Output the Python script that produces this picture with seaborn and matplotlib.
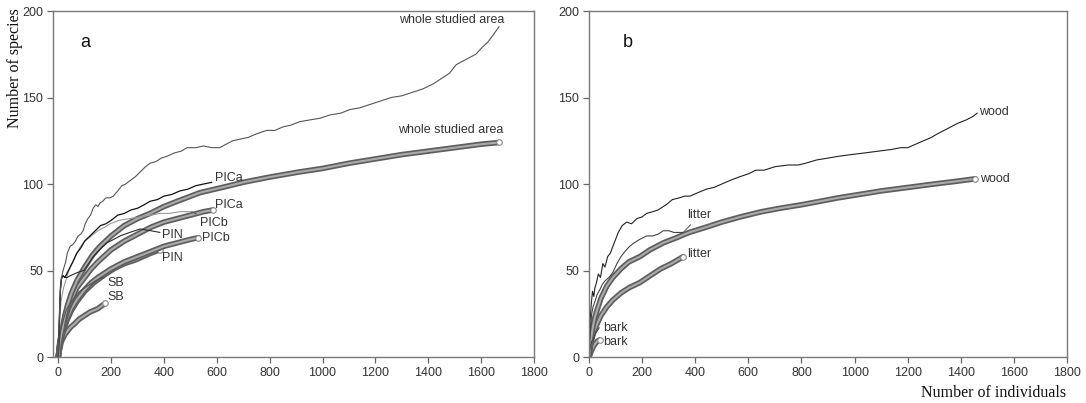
import matplotlib
matplotlib.use("Agg")
import matplotlib.pyplot as plt
import seaborn as sns

# ---- panel a: observed (thin) and rarefied (thick) curves ----
whole_obs_x = [0, 3, 6, 10, 15, 20, 28, 34, 45, 55, 65, 75, 85, 94, 102, 112, 122, 132, 142, 150,
               158, 168, 180, 195, 208, 225, 240, 255, 272, 290, 310, 330, 347, 370, 390, 411, 440,
               465, 487, 520, 550, 580, 611, 635, 660, 690, 720, 750, 789, 820, 850, 880, 913, 950,
               990, 1030, 1070, 1102, 1140, 1180, 1220, 1260, 1300, 1340, 1380, 1420, 1450, 1480,
               1506, 1530, 1555, 1580, 1604, 1625, 1645, 1668]
whole_obs_y = [0, 18, 33, 43, 48, 51, 55, 60, 64, 65, 67, 70, 71, 73, 77, 80, 82, 86, 88, 87,
               89, 90, 92, 92, 93, 96, 99, 100, 102, 104, 107, 110, 112, 113, 115, 116, 118,
               119, 121, 121, 122, 121, 121, 123, 125, 126, 127, 129, 131, 131, 133, 134, 136, 137,
               138, 140, 141, 143, 144, 146, 148, 150, 151, 153, 155, 158, 161, 164,
               169, 171, 173, 175, 179, 182, 186, 191]
whole_rare_x = [0, 3, 6, 10, 15, 25, 35, 50, 70, 100, 130, 158, 200, 250, 300, 347, 400, 450, 536,
                620, 700, 800, 913, 1000, 1100, 1200, 1300, 1400, 1500, 1600, 1668]
whole_rare_y = [0, 5, 9, 12, 16, 24, 30, 37, 44, 52, 59, 64, 70, 76, 80, 83, 87, 90, 95,
                98, 101, 104, 107, 109, 112, 114.5, 117, 119, 121, 123, 124]

pica_obs_x = [0, 4, 8, 12, 18, 25, 35, 45, 55, 70, 85, 100, 120, 140, 160, 180, 200, 225, 250,
              275, 300, 325, 347, 375, 400, 430, 460, 490, 520, 550, 581]
pica_obs_y = [0, 22, 40, 46, 47, 46, 49, 52, 55, 60, 63, 67, 70, 73, 76, 77, 79, 82, 83,
              85, 86, 88, 90, 91, 93, 94, 96, 97, 99, 100, 101]
pica_rare_x = [0, 3, 6, 10, 15, 25, 35, 50, 70, 100, 125, 150, 200, 250, 300, 350, 400, 450, 500,
               550, 586]
pica_rare_y = [0, 4, 8, 12, 15, 22, 27, 33, 40, 46, 51, 55, 62, 67, 71, 75, 78, 80, 82,
               84, 85]

picb_obs_x = [0, 5, 10, 20, 30, 40, 55, 70, 85, 100, 125, 150, 175, 196, 230, 270, 310, 350,
              385, 420, 460, 505]
picb_obs_y = [0, 18, 32, 40, 45, 50, 55, 60, 64, 67, 70, 73, 75, 77, 79, 80, 81, 82,
              83, 83, 84, 84]
picb_rare_x = [0, 3, 6, 10, 15, 25, 35, 50, 70, 100, 125, 150, 200, 250, 300, 350, 400, 450, 500,
               530]
picb_rare_y = [0, 4, 7, 10, 13, 19, 23, 28, 33, 39, 43, 46, 51, 55, 58, 61, 64, 66, 68, 69]

pin_obs_x = [0, 4, 8, 12, 18, 25, 34, 45, 60, 75, 96, 115, 132, 150, 170, 184, 210, 234, 270,
             310, 350, 385]
pin_obs_y = [0, 20, 38, 45, 47, 46, 46, 47, 48, 49, 50, 54, 58, 61, 64, 66, 68, 70, 72,
             74, 73, 72]
pin_rare_x = [0, 3, 6, 10, 15, 25, 35, 50, 70, 100, 135, 170, 210, 250, 290, 320, 350, 385]
pin_rare_y = [0, 4, 7, 10, 13, 18, 22, 27, 32, 38, 43, 47, 51, 54, 56, 58, 60, 62]

sb_obs_x = [0, 5, 10, 20, 30, 45, 60, 80, 100, 120, 140, 166]
sb_obs_y = [0, 10, 16, 22, 27, 31, 34, 38, 40, 42, 44, 46]
sb_rare_x = [0, 3, 6, 10, 15, 25, 35, 45, 60, 80, 100, 120, 150, 177]
sb_rare_y = [0, 3, 5, 8, 10, 13, 15, 17, 19, 22, 24, 26, 28, 31]

# ---- panel b ----
wood_obs_x = [0, 4, 8, 13, 18, 22, 28, 35, 43, 52, 60, 70, 80, 90, 100, 110, 125, 142, 160, 180,
              200, 217, 240, 260, 290, 314, 340, 360, 380, 410, 441, 470, 500, 530, 564, 602,
              628, 660, 700, 751, 789, 815, 860, 901, 938, 987, 1040, 1090, 1140, 1174, 1200,
              1230, 1260, 1290, 1312, 1350, 1387, 1420, 1445, 1462]
wood_obs_y = [0, 21, 30, 38, 35, 40, 43, 48, 46, 54, 52, 58, 60, 64, 68, 72, 76, 78, 77, 80,
              81, 83, 84, 85, 88, 91, 92, 93, 93, 95, 97, 98, 100, 102, 104, 106,
              108, 108, 110, 111, 111, 112, 114, 115, 116, 117, 118, 119, 120, 121, 121,
              123, 125, 127, 129, 132, 135, 137, 139, 141]
wood_rare_x = [0, 3, 6, 10, 15, 22, 30, 45, 67, 90, 120, 150, 191, 230, 280, 330, 377, 440, 500,
               570, 650, 720, 800, 870, 938, 1020, 1100, 1200, 1300, 1380, 1454]
wood_rare_y = [0, 5, 9, 13, 18, 23, 27, 34, 41, 46, 51, 55, 58, 62, 66, 69, 72, 75, 78,
               81, 84, 86, 88, 90, 92, 94, 96, 98, 100, 101.5, 103]

litter_obs_x = [0, 3, 6, 10, 15, 22, 30, 41, 50, 60, 75, 90, 105, 120, 135, 153, 170, 191, 217,
                240, 260, 280, 300, 320, 340, 355]
litter_obs_y = [0, 10, 18, 25, 29, 32, 36, 39, 42, 44, 46, 49, 54, 58, 61, 64, 66, 68, 70,
                70, 71, 73, 73, 72, 72, 72]
litter_rare_x = [0, 3, 6, 10, 15, 22, 30, 45, 67, 90, 120, 150, 191, 230, 270, 310, 355]
litter_rare_y = [0, 4, 7, 10, 13, 16, 19, 24, 29, 33, 37, 40, 43, 47, 51, 54, 58]

bark_obs_x = [0, 3, 6, 10, 15, 20, 25, 30, 35, 38]
bark_obs_y = [0, 4, 7, 9, 10, 12, 14, 15, 16, 17]
bark_rare_x = [0, 5, 10, 20, 30, 41]
bark_rare_y = [0, 2, 4, 7, 9, 10]

TXT = "#333333"


def thin(ax, x, y, color, lw=0.8):
    sns.lineplot(x=x, y=y, ax=ax, color=color, lw=lw, errorbar=None)


def thick(ax, x, y):
    sns.lineplot(x=x, y=y, ax=ax, color="#5e5e5e", lw=4.0, errorbar=None)
    sns.lineplot(x=x, y=y, ax=ax, color="#ababab", lw=1.5, errorbar=None)
    ax.plot(x[-1], y[-1], "o", ms=4, mfc="white", mec="#888888", mew=0.8)


def label(ax, text, x, y, dx, dy, ha="left", leader=False):
    arrow = dict(arrowstyle="-", color="#555555", lw=0.7, shrinkA=0, shrinkB=0) if leader else None
    ax.annotate(text, xy=(x[-1], y[-1]), xytext=(dx, dy), textcoords="offset pixels",
                ha=ha, va="center", fontsize=9, color=TXT, arrowprops=arrow)


def style(ax, xmin):
    ax.set_xlim(xmin, 1800)
    ax.set_ylim(0, 200)
    ax.set_xticks(range(0, 1801, 200))
    ax.set_yticks(range(0, 201, 50))
    ax.set_xlabel("")
    ax.set_ylabel("")
    ax.tick_params(bottom=True, left=True, direction="out", length=4, width=0.9,
                   color="#666666", labelcolor=TXT, labelsize=9, pad=3)
    for s in ax.spines.values():
        s.set_color("#7a7a7a")
        s.set_linewidth(1.0)
        s.set_visible(True)


sns.set_theme(style="white")
plt.rcParams["font.family"] = ["Liberation Sans", "DejaVu Sans"]

fig = plt.figure(figsize=(10.86, 4.03), dpi=100)
ax_a = fig.add_axes([0.0488, 0.1141, 0.4429, 0.8586])
ax_b = fig.add_axes([0.5424, 0.1141, 0.4401, 0.8586])

# panel a
thick(ax_a, sb_rare_x, sb_rare_y)
thick(ax_a, pin_rare_x, pin_rare_y)
thick(ax_a, picb_rare_x, picb_rare_y)
thick(ax_a, pica_rare_x, pica_rare_y)
thick(ax_a, whole_rare_x, whole_rare_y)
thin(ax_a, sb_obs_x, sb_obs_y, "#555555")
thin(ax_a, picb_obs_x, picb_obs_y, "#9a9a9a")
thin(ax_a, pin_obs_x, pin_obs_y, "#2a2a2a")
thin(ax_a, pica_obs_x, pica_obs_y, "#111111", 0.9)
thin(ax_a, whole_obs_x, whole_obs_y, "#555555")

label(ax_a, "whole studied area", whole_obs_x, whole_obs_y, 5, 7, ha="right")
label(ax_a, "whole studied area", whole_rare_x, whole_rare_y, 4, 12, ha="right")
label(ax_a, "PICa", pica_obs_x, pica_obs_y, 3, 4)
label(ax_a, "PICa", pica_rare_x, pica_rare_y, 2, 5)
label(ax_a, "PICb", picb_obs_x, picb_obs_y, 8, -11, leader=True)
label(ax_a, "PICb", picb_rare_x, picb_rare_y, 4, 0)
label(ax_a, "PIN", pin_obs_x, pin_obs_y, 2, -3)
label(ax_a, "PIN", pin_rare_x, pin_rare_y, 2, -8)
label(ax_a, "SB", sb_obs_x, sb_obs_y, 5, -6, leader=True)
label(ax_a, "SB", sb_rare_x, sb_rare_y, 2, 6)
ax_a.text(0.056, 0.91, "a", transform=ax_a.transAxes, fontsize=13, color="#111111",
          ha="left", va="center")
style(ax_a, -20)

# panel b
thick(ax_b, bark_rare_x, bark_rare_y)
thick(ax_b, litter_rare_x, litter_rare_y)
thick(ax_b, wood_rare_x, wood_rare_y)
thin(ax_b, bark_obs_x, bark_obs_y, "#444444")
thin(ax_b, litter_obs_x, litter_obs_y, "#444444")
thin(ax_b, wood_obs_x, wood_obs_y, "#222222")

label(ax_b, "wood", wood_obs_x, wood_obs_y, 2, 1)
label(ax_b, "wood", wood_rare_x, wood_rare_y, 5, 0)
label(ax_b, "litter", litter_obs_x, litter_obs_y, 4, 17, leader=True)
label(ax_b, "litter", litter_rare_x, litter_rare_y, 4, 3)
label(ax_b, "bark", bark_obs_x, bark_obs_y, 4, 0)
label(ax_b, "bark", bark_rare_x, bark_rare_y, 3, -2)
ax_b.text(0.071, 0.91, "b", transform=ax_b.transAxes, fontsize=13, color="#111111",
          ha="left", va="center")
style(ax_b, 0)

fig.text(0.014, 0.83, "Number of species", rotation=90, ha="center", va="center",
         fontsize=11.5, family=["Liberation Serif", "DejaVu Serif"], color="#111111")
fig.text(0.982, 0.025, "Number of individuals", ha="right", va="center",
         fontsize=11.5, family=["Liberation Serif", "DejaVu Serif"], color="#111111")

fig.savefig("out.png", dpi=100)
